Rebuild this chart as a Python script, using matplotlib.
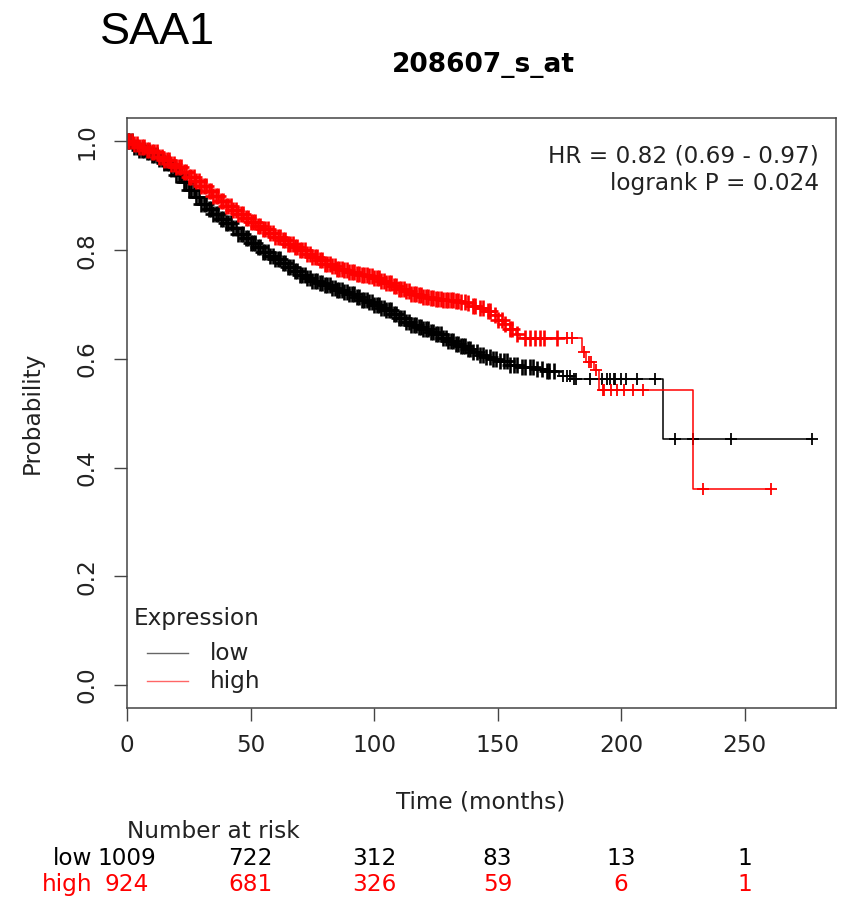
import numpy as np
import matplotlib.pyplot as plt
from matplotlib import transforms
from matplotlib.lines import Line2D

plt.rcParams['font.family'] = 'DejaVu Sans'

# Kaplan-Meier curves, months vs. survival probability
low_time = [0, 2.5, 5, 7.5, 10, 12.5, 15, 17.5, 20, 22.5, 25, 27.5, 30, 32.5, 35,
            37.5, 40, 42.5, 45, 47.5, 50, 52.5, 55, 57.5, 60, 62.5, 65, 67.5, 70,
            72.5, 75, 77.5, 80, 82.5, 85, 87.5, 90, 92.5, 95, 97.5, 100, 102.5, 105,
            107.5, 110, 112.5, 115, 117.5, 120, 122.5, 125, 127.5, 130, 132.5, 135,
            137.5, 140, 142.5, 145, 147.5, 150, 155, 160, 165, 170, 175, 180, 217,
            277.4]
low_surv = [1.0, 0.99, 0.985, 0.98, 0.975, 0.968, 0.96, 0.95, 0.938, 0.925, 0.91,
            0.897, 0.885, 0.875, 0.866, 0.858, 0.85, 0.84, 0.83, 0.822, 0.813, 0.805,
            0.797, 0.79, 0.783, 0.776, 0.769, 0.762, 0.755, 0.749, 0.743, 0.739,
            0.735, 0.731, 0.727, 0.723, 0.719, 0.714, 0.709, 0.704, 0.699, 0.694,
            0.689, 0.682, 0.675, 0.668, 0.662, 0.658, 0.655, 0.65, 0.645, 0.638,
            0.632, 0.628, 0.624, 0.618, 0.612, 0.608, 0.604, 0.6, 0.596, 0.588,
            0.585, 0.582, 0.578, 0.568, 0.563, 0.4526, 0.4526]
low_cens = [0.5, 1, 2, 3, 4, 5, 6, 7, 8, 9, 10, 11, 12, 13, 14, 15, 16, 17, 18, 19,
            20, 21, 22, 23, 24, 25, 26, 27, 28, 29, 30, 31, 32, 33, 34, 35, 36, 37,
            38, 39, 40, 41, 42, 43, 44, 45, 46, 47, 48, 49, 50, 51, 52, 53, 54, 55,
            56, 57, 58, 59, 60, 61, 62, 63, 64, 65, 66, 67, 68, 69, 70, 71, 72, 73,
            74, 75, 76, 77, 78, 79, 80, 81, 82, 83, 84, 85, 86, 87, 88, 89, 90, 91,
            92, 93, 94, 95, 96, 97, 98, 99, 100, 101, 102, 103, 104, 105, 106, 107,
            108, 109, 110, 111, 112, 113, 114, 115, 116, 117, 118, 119, 120, 121,
            122, 123, 124, 125, 126, 127, 128, 129, 130, 131, 132, 133, 134, 135,
            136, 137, 138, 139, 140, 141.5, 143, 144, 145.5, 147, 148, 149.5, 151,
            152.5, 154, 155, 156.5, 158, 160, 161, 163, 164.5, 166, 168, 170, 171,
            173, 176.6, 178, 179.5, 181, 181.7, 187.6, 192.4, 194.4, 195.7, 197,
            197.7, 199.8, 201.8, 206.6, 213.9, 222, 229, 244.5, 277.4]

high_time = [0, 2.5, 5, 7.5, 10, 12.5, 15, 17.5, 20, 22.5, 25, 27.5, 30, 32.5, 35,
             37.5, 40, 42.5, 45, 47.5, 50, 52.5, 55, 57.5, 60, 62.5, 65, 67.5, 70,
             72.5, 75, 77.5, 80, 82.5, 85, 87.5, 90, 92.5, 95, 97.5, 100, 102.5, 105,
             107.5, 110, 112.5, 115, 117.5, 120, 122.5, 125, 127.5, 130, 132.5, 135,
             137.5, 140, 142.5, 145, 147.5, 150, 152.5, 155, 157.5, 159, 184, 186,
             189, 191, 229.3, 260.5]
high_surv = [1.0, 0.995, 0.99, 0.985, 0.98, 0.972, 0.965, 0.958, 0.952, 0.944,
             0.935, 0.927, 0.918, 0.909, 0.9, 0.891, 0.882, 0.874, 0.866, 0.859,
             0.852, 0.845, 0.838, 0.831, 0.824, 0.818, 0.812, 0.806, 0.8, 0.793,
             0.787, 0.781, 0.775, 0.77, 0.766, 0.763, 0.76, 0.757, 0.755, 0.752,
             0.748, 0.744, 0.74, 0.734, 0.728, 0.724, 0.72, 0.717, 0.714, 0.712,
             0.71, 0.709, 0.708, 0.707, 0.705, 0.702, 0.698, 0.693, 0.688, 0.68,
             0.672, 0.664, 0.655, 0.646, 0.638, 0.613, 0.595, 0.58, 0.543, 0.36, 0.36]
high_cens = [0.5, 1, 2, 3, 4, 5, 6, 7, 8, 9, 10, 11, 12, 13, 14, 15, 16, 17, 18, 19,
             20, 21, 22, 23, 24, 25, 26, 27, 28, 29, 30, 31, 32, 33, 34, 35, 36, 37,
             38, 39, 40, 41, 42, 43, 44, 45, 46, 47, 48, 49, 50, 51, 52, 53, 54, 55,
             56, 57, 58, 59, 60, 61, 62, 63, 64, 65, 66, 67, 68, 69, 70, 71, 72, 73,
             74, 75, 76, 77, 78, 79, 80, 81, 82, 83, 84, 85, 86, 87, 88, 89, 90, 91,
             92, 93, 94, 95, 96, 97, 98, 99, 100, 101, 102, 103, 104, 105, 106, 107,
             108, 109, 110, 111, 112, 113, 114, 115, 116, 117, 118, 119, 120, 121,
             122, 123, 124, 125, 126, 127, 128, 129, 130, 131, 132, 133, 134, 135,
             137, 138, 140, 141, 143, 144, 146, 147, 149, 150, 152, 153, 155, 156,
             158, 161, 163, 165, 167, 169, 174, 178, 180, 185, 187, 188, 190, 192.5,
             193, 196, 198.5, 201, 205, 209, 233.3, 260.5]

risk_times = [0, 50, 100, 150, 200, 250]
risk_low = [1009, 722, 312, 83, 13, 1]
risk_high = [924, 681, 326, 59, 6, 1]

W, H = 842, 897
fig = plt.figure(figsize=(W / 100, H / 100), dpi=100)
ax = fig.add_axes([127 / W, 1 - 708 / H, (836 - 127) / W, (708 - 118) / H])


def at(times, surv, t):
    i = np.searchsorted(times, t, side='right') - 1
    return np.asarray(surv)[i]


groups = [(low_time, low_surv, low_cens, 'black'),
          (high_time, high_surv, high_cens, 'red')]
for times, surv, cens, col in groups:
    cens = np.asarray(cens)
    ax.step(times, surv, where='post', color=col, lw=1.1)
    # crowded censor marks early on, sparse ones in the tail
    busy = cens < 175
    ax.plot(cens[busy], at(times, surv, cens[busy]), ls='none', marker='+',
            color=col, ms=12, mew=1.9)
    ax.plot(cens[~busy], at(times, surv, cens[~busy]), ls='none', marker='+',
            color=col, ms=8.5, mew=1.3)

ax.set_xlim(0, 287)
ax.set_ylim(-0.042, 1.043)
ax.set_xticks(risk_times)
ax.set_yticks([0, 0.2, 0.4, 0.6, 0.8, 1.0])
ax.set_yticklabels(['0.0', '0.2', '0.4', '0.6', '0.8', '1.0'], rotation=90, va='center')
ax.tick_params(axis='both', labelsize=16.7, length=9.5, width=1.0, color='#444444',
               labelcolor='#222222')
ax.tick_params(axis='x', pad=9)
ax.tick_params(axis='y', pad=11)
for s in ax.spines.values():
    s.set_color('#444444')
    s.set_linewidth(1.1)

ax.text(0.976, 0.955, 'HR = 0.82 (0.69 - 0.97)\nlogrank P = 0.024', transform=ax.transAxes,
        ha='right', va='top', fontsize=16.7, color='#222222', linespacing=1.25)

# legend drawn by hand in figure pixels
fig.text(134 / W, 1 - 618 / H, 'Expression', fontsize=16.7, ha='left', va='center',
         color='#222222')
for y, col, lab in [(653, 'black', 'low'), (681, 'red', 'high')]:
    fig.add_artist(Line2D([147 / W, 188 / W], [1 - y / H, 1 - y / H], color=col,
                          lw=1.0, alpha=0.6, transform=fig.transFigure))
    fig.text(210 / W, 1 - y / H, lab, fontsize=16.7, ha='left', va='center',
             color='#222222')

fig.text(100 / W, 1 - 32 / H, 'SAA1', family='Liberation Sans', fontsize=32.4,
         ha='left', va='center')
fig.text(483 / W, 1 - 65 / H, '208607_s_at', fontsize=19, fontweight='bold',
         ha='center', va='center')
fig.text(32 / W, 1 - 413 / H, 'Probability', rotation=90, fontsize=16.7,
         ha='center', va='center', color='#222222')
fig.text(481 / W, 1 - 802 / H, 'Time (months)', fontsize=16.7, ha='center',
         va='center', color='#222222')

# number at risk table below the axes
tr = transforms.blended_transform_factory(ax.transData, fig.transFigure)
fig.text(127 / W, 1 - 831 / H, 'Number at risk', fontsize=16.7, ha='left',
         va='center', color='#222222')
fig.text(92 / W, 1 - 858 / H, 'low', fontsize=16.7, ha='right', va='center', color='black')
fig.text(92 / W, 1 - 884 / H, 'high', fontsize=16.7, ha='right', va='center', color='red')
for t, n_lo, n_hi in zip(risk_times, risk_low, risk_high):
    ax.text(t, 1 - 858 / H, str(n_lo), transform=tr, fontsize=16.7, ha='center',
            va='center', color='black')
    ax.text(t, 1 - 884 / H, str(n_hi), transform=tr, fontsize=16.7, ha='center',
            va='center', color='red')

fig.savefig('out.png', dpi=100)
